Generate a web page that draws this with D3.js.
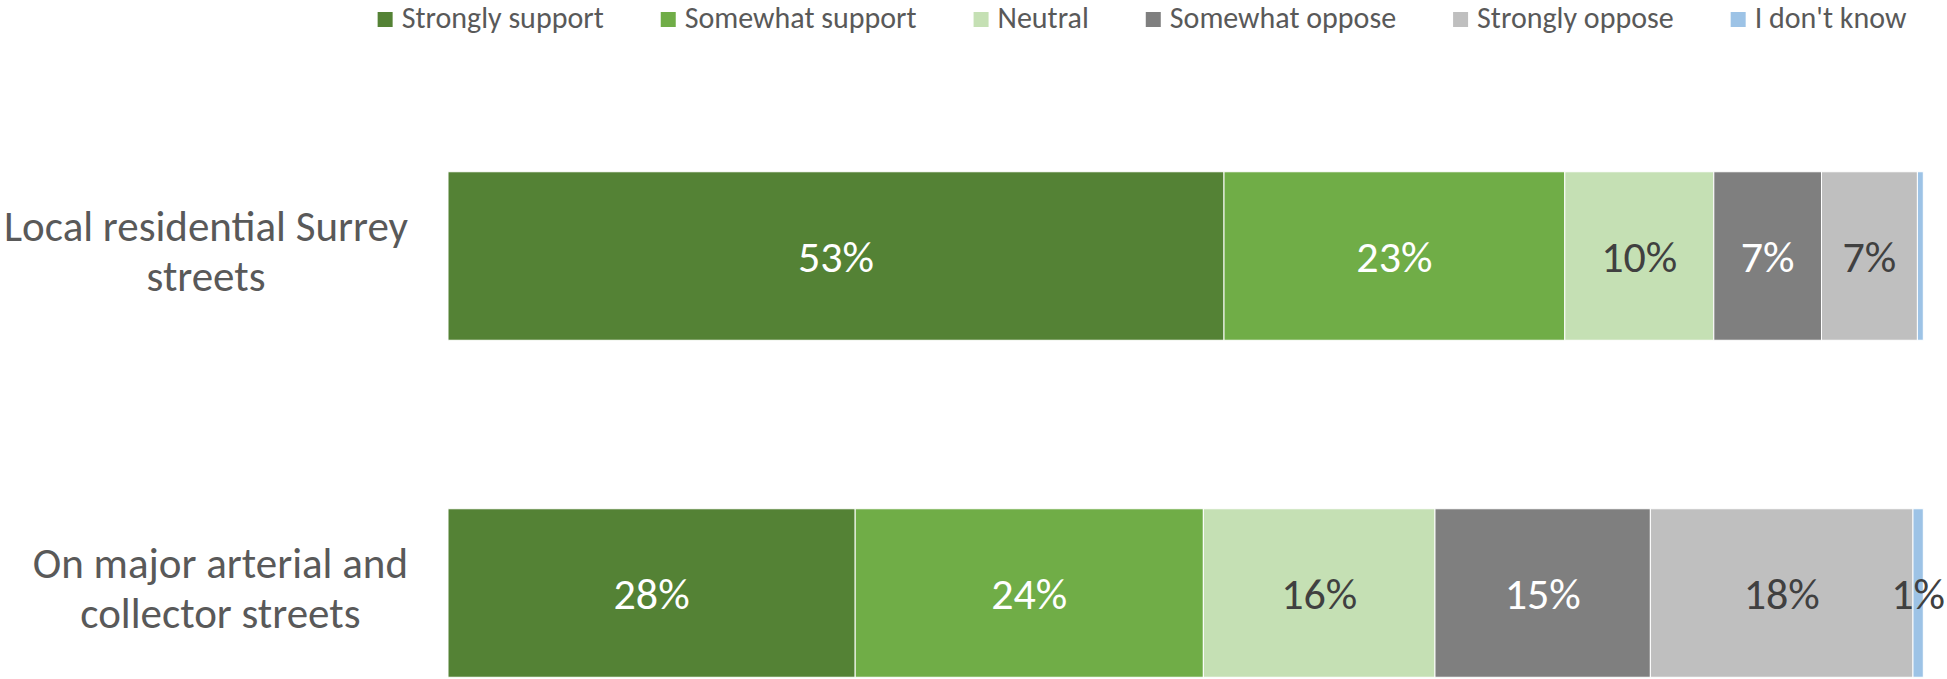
<!DOCTYPE html>
<html>
<head>
<meta charset="utf-8">
<script src="https://cdn.jsdelivr.net/npm/d3@7"></script>
<style>
  html, body { margin: 0; padding: 0; background: #ffffff; }
  svg { display: block; font-family: "Carlito", "Calibri", "Lato", sans-serif; }
</style>
</head>
<body>
<svg id="chart" width="1947" height="679"></svg>
<script>
// Survey responses, percent of respondents per street type
const categories = ["Local residential Surrey streets", "On major arterial and collector streets"];
const categoryLines = [["Local residential Surrey", "streets"], ["On major arterial and", "collector streets"]];
const seriesNames = ["Strongly support", "Somewhat support", "Neutral", "Somewhat oppose", "Strongly oppose", "I don't know"];
const stronglySupport = [52.6, 27.6];
const somewhatSupport = [23.1, 23.6];
const neutral = [10.1, 15.7];
const somewhatOppose = [7.3, 14.6];
const stronglyOppose = [6.5, 17.8];
const dontKnow = [0.4, 0.7];

const seriesValues = [stronglySupport, somewhatSupport, neutral, somewhatOppose, stronglyOppose, dontKnow];
const colors = ["#548235", "#70AD47", "#C5E0B4", "#7F7F7F", "#BFBFBF", "#9DC3E6"];
const labelColors = ["#ffffff", "#ffffff", "#404040", "#ffffff", "#404040", "#404040"];

const rows = categories.map((c, i) => {
  const row = { category: c };
  seriesNames.forEach((s, j) => { row[s] = seriesValues[j][i]; });
  return row;
});

const stacked = d3.stack().keys(seriesNames)(rows);

const svg = d3.select("#chart");

const x = d3.scaleLinear().domain([0, 100]).range([448, 1923.3]);
const y = d3.scaleBand().domain(categories).range([87.5, 761.5]).paddingInner(0.5).paddingOuter(0.25);
const color = d3.scaleOrdinal().domain(seriesNames).range(colors);
const textColor = d3.scaleOrdinal().domain(seriesNames).range(labelColors);
const pct = d3.format(".0f");

// Stacked bar segments
const layers = svg.append("g").selectAll("g")
  .data(stacked)
  .join("g")
  .attr("fill", d => color(d.key));

layers.selectAll("rect")
  .data(d => d.map(p => Object.assign(p, { key: d.key })))
  .join("rect")
  .attr("x", d => x(d[0]))
  .attr("y", d => y(d.data.category))
  .attr("width", d => x(d[1]) - x(d[0]))
  .attr("height", y.bandwidth())
  .attr("stroke", "#ffffff")
  .attr("stroke-width", 1);

// Value labels centred in each segment
layers.selectAll("text")
  .data(d => d.filter(p => Math.round(p[1] - p[0]) >= 1))
  .join("text")
  .attr("x", d => (x(d[0]) + x(d[1])) / 2)
  .attr("y", d => y(d.data.category) + y.bandwidth() / 2)
  .attr("dy", "0.36em")
  .attr("text-anchor", "middle")
  .attr("font-size", 44)
  .attr("fill", d => textColor(d.key))
  .text(d => pct(d[1] - d[0]) + "%");

// Category labels, each block right-aligned to the axis with lines centred within it
const labelFont = 43, lineH = 50.5, labelRight = 408;
categories.forEach((c, i) => {
  const g = svg.append("g");
  const cy = y(c) + y.bandwidth() / 2;
  const lines = categoryLines[i];
  const texts = lines.map((ln, k) => g.append("text")
    .attr("y", cy + (k - (lines.length - 1) / 2) * lineH + 10)
    .attr("text-anchor", "middle")
    .attr("font-size", labelFont)
    .attr("fill", "#595959")
    .text(ln));
  const blockW = d3.max(texts, t => t.node().getComputedTextLength());
  texts.forEach(t => t.attr("x", labelRight - blockW / 2));
});

// Legend across the top
const legend = svg.append("g");
const legendFont = 30, swatch = 15, swatchGap = 9, itemGap = 57;
let cursor = 0;
seriesNames.forEach(s => {
  const g = legend.append("g");
  g.append("rect")
    .attr("x", 0).attr("y", 12)
    .attr("width", swatch).attr("height", swatch)
    .attr("fill", color(s));
  const t = g.append("text")
    .attr("x", swatch + swatchGap).attr("y", 28)
    .attr("font-size", legendFont)
    .attr("fill", "#595959")
    .text(s);
  const w = swatch + swatchGap + t.node().getComputedTextLength();
  g.attr("transform", `translate(${cursor},0)`);
  cursor += w + itemGap;
});
const legendWidth = cursor - itemGap;
legend.attr("transform", `translate(${1142 - legendWidth / 2},0)`);
</script>
</body>
</html>
